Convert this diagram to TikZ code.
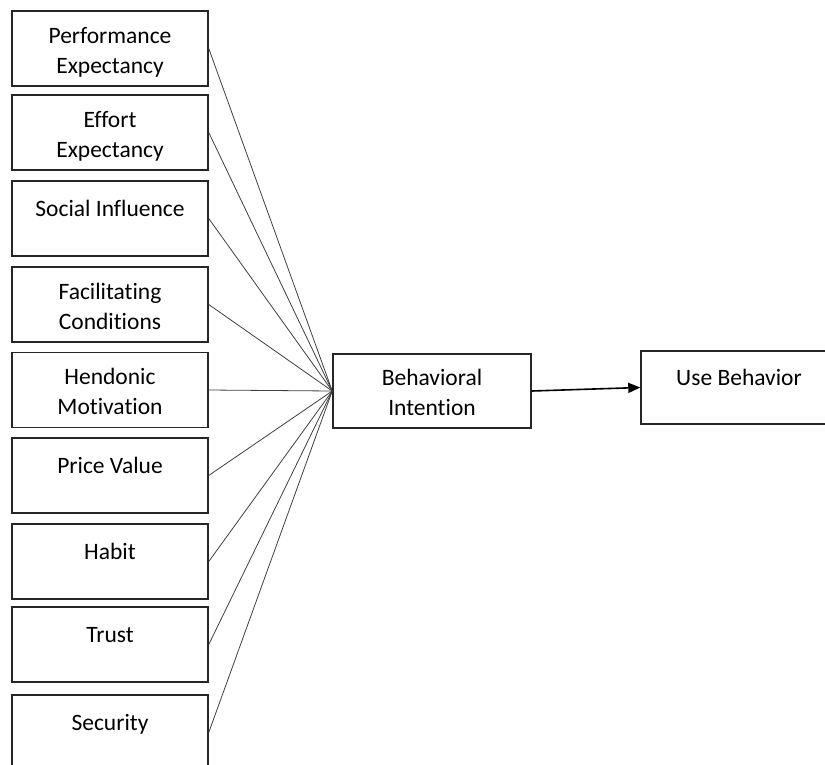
\documentclass[tikz,border=0pt]{standalone}
\usepackage{fontspec}
\setmainfont{Carlito}[Ligatures={NoCommon,NoContextual},RawFeature={-liga;-calt}]
\usepackage{tikz}
\usetikzlibrary{arrows.meta}
% label with two text lines, or one line and an empty second line
\newcommand{\lblTwo}[2]{\rule{0pt}{25pt}#1\\#2\rule[-6pt]{0pt}{6pt}}
\newcommand{\lblOne}[1]{\rule{0pt}{32pt}#1\\\rule[-6pt]{0pt}{6pt}}
\tikzset{
  factor/.style={draw=black!85,line width=1.5pt,minimum width=196pt,minimum height=75pt,
    inner sep=0pt,align=center,font=\fontsize{23.5}{30}\selectfont},
  link/.style={draw=black!75,line width=0.8pt},
  flow/.style={draw=black,line width=1.6pt,-{Triangle[length=12pt,width=10pt]}}
}

\begin{document}
\begin{tikzpicture}[x=1pt,y=-1pt]
\useasboundingbox (0,0) rectangle (825,764);

% Predictors
\node[factor] (perf) at (110,48.5) {\lblTwo{Performance}{Expectancy}};
\node[factor] (effort) at (110,132.5) {\lblTwo{Effort}{Expectancy}};
\node[factor] (social) at (110,218.5) {\lblOne{Social Influence}};
\node[factor] (facil) at (110,304.5) {\lblTwo{Facilitating}{Conditions}};
\node[factor] (hedon) at (110,390) {\lblTwo{Hendonic}{Motivation}};
\node[factor] (price) at (110,475.5) {\lblOne{Price Value}};
\node[factor] (habit) at (110,561.5) {\lblOne{Habit}};
\node[factor] (trust) at (110,644.5) {\lblOne{Trust}};
\node[factor] (secur) at (110,732.5) {\lblOne{Security}};

% Intention and behavior
\node[factor,minimum width=198pt,minimum height=74pt] (intent) at (432,391) {\lblTwo{Behavioral}{Intention}};
\node[factor,minimum height=73pt] (usebeh) at (739,387.5) {\lblOne{Use Behavior}};

% Links into intention
\foreach \src in {perf,effort,social,facil,hedon,price,habit,trust,secur}
  \draw[link] (\src.east) -- (intent.west);

% Intention to use
\draw[flow] (intent.east) -- (usebeh.west);
\end{tikzpicture}
\end{document}
